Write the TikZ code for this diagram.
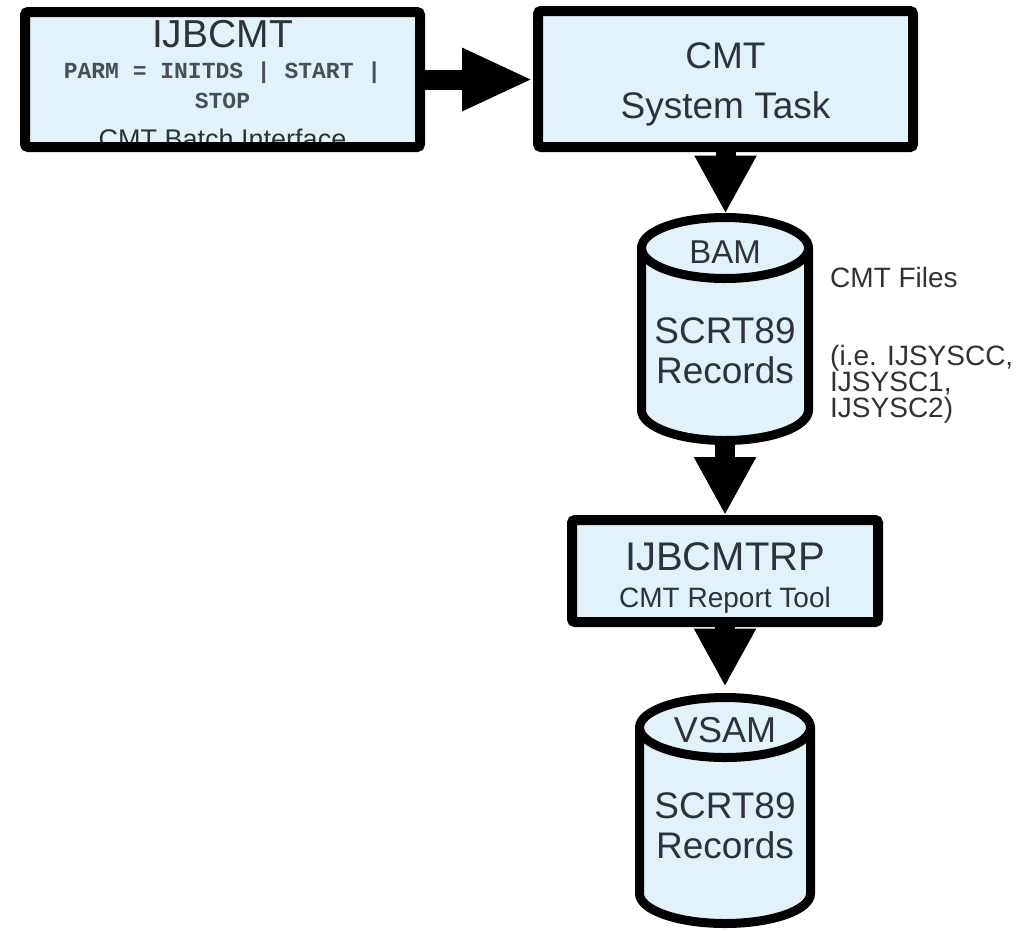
\documentclass[tikz,border=0pt]{standalone}
\usepackage{fontspec}
\setmainfont{Liberation Sans}
\setmonofont{Liberation Mono}
\usetikzlibrary{arrows.meta}
\definecolor{boxblue}{HTML}{E1F2FB}
\definecolor{inkgray}{HTML}{2E3338}
\definecolor{parmgray}{HTML}{4A4F54}
\def\fsz#1{\fontsize{#1}{#1}\selectfont}
% cylinder drawn round a (blank) node: name, x radius, y radius
\def\dbcyl#1#2#3{
	\draw[dbline] ([yshift=-#3pt]#1.north west) -- ([yshift=#3pt]#1.south west) arc[start angle=180, end angle=360, x radius=#2pt, y radius=#3pt] -- ([yshift=-#3pt]#1.north east) arc[start angle=0, end angle=180, x radius=#2pt, y radius=#3pt] -- cycle;
	\draw[dbline, fill=none] ([yshift=-#3pt]#1.north west) arc[start angle=180, end angle=360, x radius=#2pt, y radius=#3pt];
}

\begin{document}
\begin{tikzpicture}[x=1pt,y=-1pt,
	procbox/.style={draw=black, fill=boxblue, line width=10pt, rounded corners=3pt, inner sep=0pt},
	dbspot/.style={inner sep=0pt, outer sep=0pt},
	dbline/.style={draw=black, fill=boxblue, line width=9pt},
	txt/.style={text=inkgray, inner sep=0pt, anchor=base},
	flow/.style={line width=20pt, -{Triangle[length=58pt, width=58pt]}}]
			%%%%% START %%%%%
			\useasboundingbox (0,0) rectangle (1033,930);
			
			% batch interface (text runs under the frame)
			\node[procbox, draw=none, outer sep=0pt, minimum width=395pt, minimum height=135pt] (batch) at (222.5,79.5) {};
			\node[txt] (batchname) at (222.5,47) {\fsz{39}IJBCMT};
			\node[txt, text=parmgray] (batchparm) at (222.5,78) {\ttfamily\bfseries\fsz{23}PARM = INITDS | START |};
			\node[txt, text=parmgray] (batchstop) at (222.5,108) {\ttfamily\bfseries\fsz{23}STOP};
			\node[txt] (batchdesc) at (222.5,148) {\fsz{27}CMT Batch Interface};
			\draw[line width=10pt, rounded corners=3pt] (batch.north west) rectangle (batch.south east);
			
			% system task
			\node[procbox, minimum width=375pt, minimum height=136pt] (task) at (725.5,79) {};
			\node[txt] (taskname) at (725.5,68) {\fsz{37}CMT};
			\node[txt] (taskdesc) at (725.5,118) {\fsz{37}System Task};
			
			% BAM files
			\node[dbspot, minimum width=167pt, minimum height=223pt] (bam) at (725,329) {};
			\dbcyl{bam}{83.5}{30.5}
			\node[txt] (bamtype) at (725,263) {\fsz{33}BAM};
			\node[txt] (bamrec) at (725,343) {\fsz{37}SCRT89};
			\node[txt] (bamrec2) at (725,383) {\fsz{37}Records};
			\node[txt, anchor=base west] (cmtfiles) at (830,287) {\fsz{28}CMT Files};
			\node[txt, anchor=base west] (sysfiles) at (830,365) {\fsz{28}(i.e. IJSYSCC,};
			\node[txt, anchor=base west] (sysfiles2) at (830,391) {\fsz{28}IJSYSC1,};
			\node[txt, anchor=base west] (sysfiles3) at (830,417) {\fsz{28}IJSYSC2)};
			
			% report tool
			\node[procbox, minimum width=306pt, minimum height=102pt] (report) at (725,571) {};
			\node[txt] (reportname) at (725,570) {\fsz{40}IJBCMTRP};
			\node[txt] (reportdesc) at (725,607) {\fsz{28}CMT Report Tool};
			
			% VSAM file
			\node[dbspot, minimum width=171pt, minimum height=226pt] (vsam) at (725,810.5) {};
			\dbcyl{vsam}{85.5}{30}
			\node[txt] (vsamtype) at (725,742) {\fsz{36}VSAM};
			\node[txt] (vsamrec) at (725,818) {\fsz{37}SCRT89};
			\node[txt] (vsamrec2) at (725,858) {\fsz{37}Records};
			
			% connectors
			\draw[flow, -{Triangle[length=71pt, width=58pt]}] (batch.east) -- (batch.east -| task.west);
			\draw[flow, shorten >=4pt] (task.south) -- (task.south |- bam.north);
			\draw[flow] (bam.south) -- (bam.south |- report.north);
			\draw[flow, shorten >=11pt] (report.south) -- (report.south |- vsam.north);
			
			%%%%% END %%%%%
\end{tikzpicture}
\end{document}
